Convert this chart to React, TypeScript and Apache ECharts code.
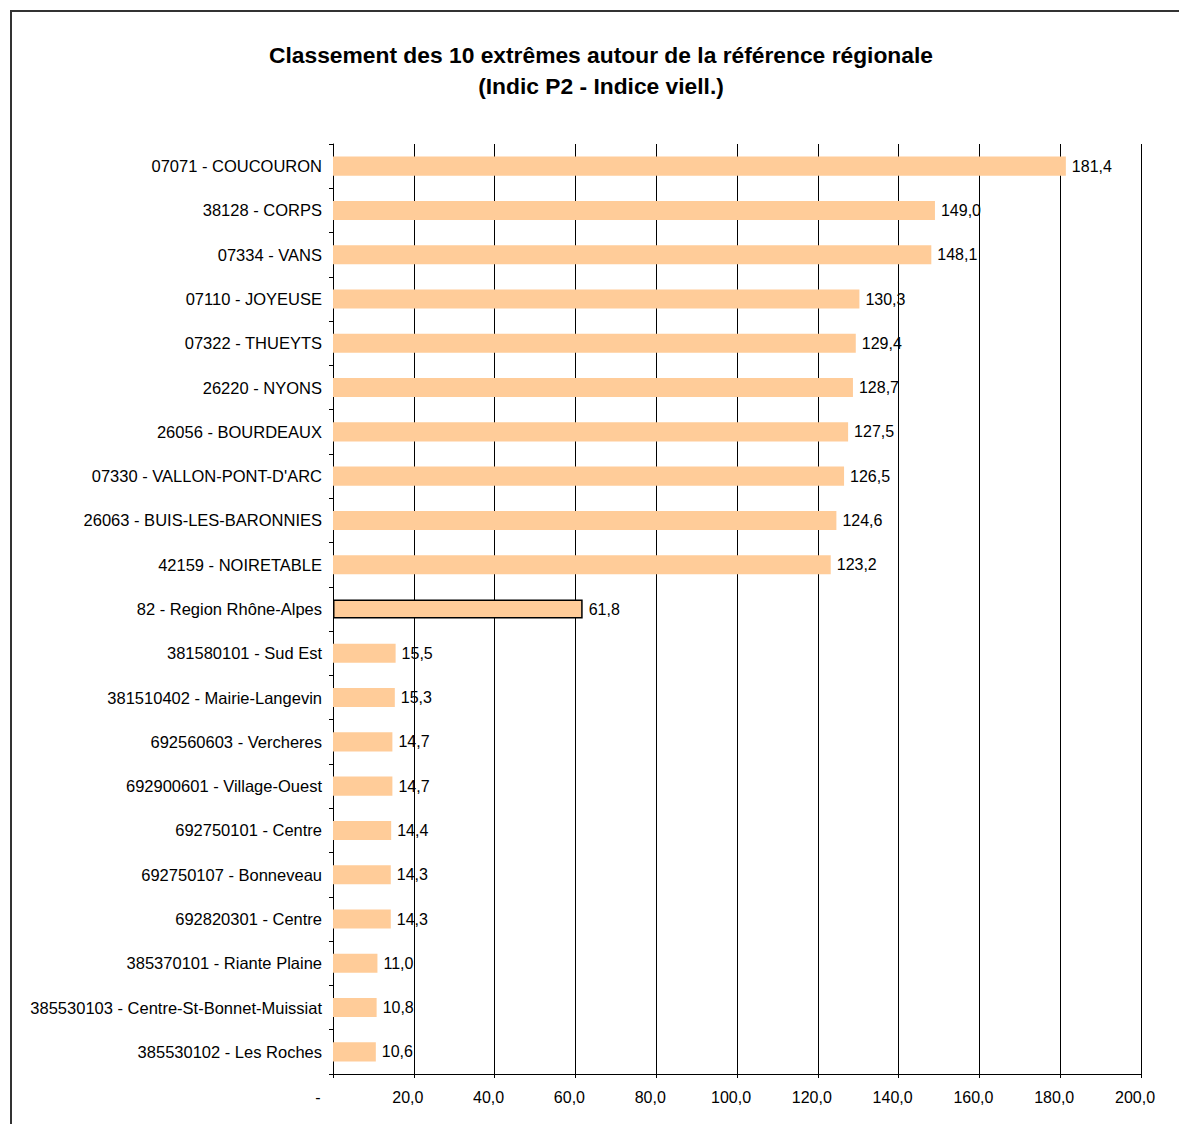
import React, { useEffect, useRef } from "react";
import * as echarts from "echarts";

const categories = [
  "07071 - COUCOURON",
  "38128 - CORPS",
  "07334 - VANS",
  "07110 - JOYEUSE",
  "07322 - THUEYTS",
  "26220 - NYONS",
  "26056 - BOURDEAUX",
  "07330 - VALLON-PONT-D'ARC",
  "26063 - BUIS-LES-BARONNIES",
  "42159 - NOIRETABLE",
  "82 - Region Rhône-Alpes",
  "381580101 - Sud Est",
  "381510402 - Mairie-Langevin",
  "692560603 - Vercheres",
  "692900601 - Village-Ouest",
  "692750101 - Centre",
  "692750107 - Bonneveau",
  "692820301 - Centre",
  "385370101 - Riante Plaine",
  "385530103 - Centre-St-Bonnet-Muissiat",
  "385530102 - Les Roches",
];

const values = [
  181.4, 149.0, 148.1, 130.3, 129.4, 128.7, 127.5, 126.5, 124.6, 123.2, 61.8,
  15.5, 15.3, 14.7, 14.7, 14.4, 14.3, 14.3, 11.0, 10.8, 10.6,
];

const referenceIndex = 10;

const titleLines = [
  "Classement des 10 extrêmes autour de la référence régionale",
  "(Indic P2 - Indice viell.)",
];

const FONT = "'Liberation Sans', Arial, sans-serif";

const fmt = (v: number) => v.toFixed(1).replace(".", ",");

export default function App() {
  const ref = useRef<HTMLDivElement>(null);

  useEffect(() => {
    if (!ref.current) return;
    const chart = echarts.init(ref.current, undefined, { renderer: "svg" });
    chart.setOption({
      animation: false,
      backgroundColor: "#ffffff",
      textStyle: { fontFamily: FONT },
      title: {
        text: titleLines.join("\n"),
        left: 596,
        top: 34,
        textAlign: "center",
        textStyle: {
          fontFamily: FONT,
          fontWeight: "bold",
          fontSize: 22.8,
          lineHeight: 31,
          color: "#000",
        },
      },
      graphic: [
        {
          type: "rect",
          shape: { x: 11, y: 11, width: 1300, height: 1300 },
          style: { fill: "none", stroke: "#333", lineWidth: 2 },
          silent: true,
        },
      ],
      grid: { left: 333, right: 38, top: 144, bottom: 50, containLabel: false },
      xAxis: {
        type: "value",
        min: 0,
        max: 200,
        interval: 20,
        axisLine: { show: true, lineStyle: { color: "#000", width: 1 } },
        axisTick: { show: true, length: 4, lineStyle: { color: "#000" } },
        splitLine: { show: true, lineStyle: { color: "#000", width: 1 } },
        axisLabel: {
          margin: 15,
          fontFamily: FONT,
          fontSize: 16,
          color: "#000",
          formatter: (v: number) => (v === 0 ? "{z|-}" : "{a|" + fmt(v) + "}"),
          rich: {
            a: { fontFamily: FONT, fontSize: 16, color: "#000", padding: [0, 12, 0, 0] },
            z: { fontFamily: FONT, fontSize: 16, color: "#000", padding: [0, 30, 0, 0] },
          },
        },
      },
      yAxis: {
        type: "category",
        inverse: true,
        data: categories,
        axisLine: { show: true, lineStyle: { color: "#000", width: 1 } },
        axisTick: { show: true, length: 4, inside: false, lineStyle: { color: "#000" } },
        splitLine: { show: false },
        axisLabel: {
          margin: 11,
          fontFamily: FONT,
          fontSize: 16.5,
          color: "#000",
        },
      },
      series: [
        {
          type: "bar",
          barWidth: "43%",
          data: values.map((v, i) =>
            i === referenceIndex
              ? {
                  value: v,
                  itemStyle: { color: "#FFCC99", borderColor: "#000", borderWidth: 1.5 },
                }
              : { value: v, itemStyle: { color: "#FFCC99" } }
          ),
          label: {
            show: true,
            position: "right",
            distance: 6,
            fontFamily: FONT,
            fontSize: 16,
            color: "#000",
            formatter: (p: any) => fmt(p.value),
          },
        },
      ],
    });
    return () => chart.dispose();
  }, []);

  return (
    <div
      ref={ref}
      style={{ position: "absolute", left: 0, top: 0, width: 1179, height: 1124 }}
    />
  );
}
